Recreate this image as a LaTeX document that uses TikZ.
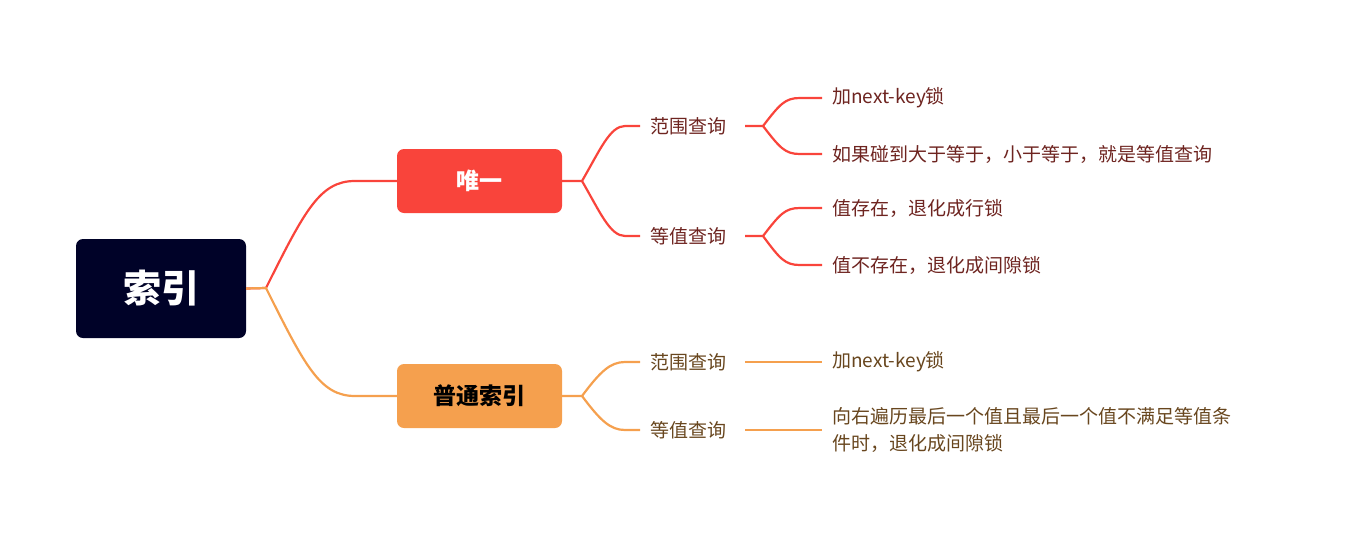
\documentclass[tikz,border=0pt]{standalone}
\usepackage{fontspec}
\setmainfont{Noto Sans CJK SC}
\begin{document}
\begin{tikzpicture}[x=1pt,y=-1pt,
  red/.style={draw={rgb,255:red,249;green,68;blue,59},line width=2.2pt},
  org/.style={draw={rgb,255:red,245;green,160;blue,78},line width=2.2pt},
  lr/.style={anchor=west,inner sep=0pt,font=\fontsize{19}{22}\selectfont,text={rgb,255:red,110;green,36;blue,32}},
  lo/.style={anchor=west,inner sep=0pt,font=\fontsize{19}{22}\selectfont,text={rgb,255:red,104;green,70;blue,30}},
  box/.style={rounded corners=7pt,minimum width=165pt,minimum height=64pt,inner sep=0pt,font=\bfseries\fontsize{23}{26}\selectfont}]
\useasboundingbox (0,0) rectangle (1359,541);
\node[box,fill={rgb,255:red,0;green,2;blue,40},text=white,minimum width=170pt,minimum height=99pt,font=\bfseries\fontsize{38}{42}\selectfont] (root) at (161,288.5) {索引};
\node[box,fill={rgb,255:red,249;green,68;blue,59},text=white] (u) at (479.5,181) {唯一};
\node[box,fill={rgb,255:red,245;green,160;blue,78},text=black] (p) at (479.5,396) {普通索引};
\coordinate (r0) at (266,288);
\draw[red] (root.east) -- (r0) .. controls (305,210) and (320,181) .. (355,181) -- (u.west);
\draw[org] (root.east) -- (r0) .. controls (305,366) and (320,396) .. (355,396) -- (p.west);
% unique
\coordinate (u0) at (582,181);
\node[lr] (ua) at (650,126) {范围查询};
\node[lr] (ub) at (650,236) {等值查询};
\draw[red] (u.east) -- (u0) .. controls (600,150) and (610,126) .. (625,126) -- (640,126);
\draw[red] (u0) .. controls (600,212) and (610,236) .. (625,236) -- (640,236);
\node[lr] (a1) at (832,98) {加next-key锁};
\node[lr] (a2) at (832,154) {如果碰到大于等于，小于等于，就是等值查询};
\node[lr] (b1) at (832,208) {值存在，退化成行锁};
\node[lr] (b2) at (832,265) {值不存在，退化成间隙锁};
\coordinate (ua0) at (745,126); \coordinate (ua1) at (763,126);
\draw[red] (ua0) -- (ua1) .. controls (780,104) and (785,98) .. (800,98) -- (822,98);
\draw[red] (ua1) .. controls (780,148) and (785,154) .. (800,154) -- (822,154);
\coordinate (ub0) at (745,236); \coordinate (ub1) at (763,236);
\draw[red] (ub0) -- (ub1) .. controls (780,214) and (785,208) .. (800,208) -- (822,208);
\draw[red] (ub1) .. controls (780,259) and (785,265) .. (800,265) -- (822,265);
% ordinary
\coordinate (p0) at (582,396);
\node[lo] (pa) at (650,362) {范围查询};
\node[lo] (pb) at (650,430) {等值查询};
\draw[org] (p.east) -- (p0) .. controls (600,372) and (610,362) .. (625,362) -- (640,362);
\draw[org] (p0) .. controls (600,420) and (610,430) .. (625,430) -- (640,430);
\node[lo] (c1) at (832,362) {加next-key锁};
\node[lo,align=left,text width=470pt,font=\fontsize{19}{27}\selectfont] (c2) at (832,430) {向右遍历最后一个值且最后一个值不满足等值条\\件时，退化成间隙锁};
\coordinate (pa0) at (745,362); \coordinate (pa1) at (822,362);
\coordinate (pb0) at (745,430); \coordinate (pb1) at (822,430);
\draw[org] (pa0) -- (pa1);
\draw[org] (pb0) -- (pb1);
\end{tikzpicture}
\end{document}
